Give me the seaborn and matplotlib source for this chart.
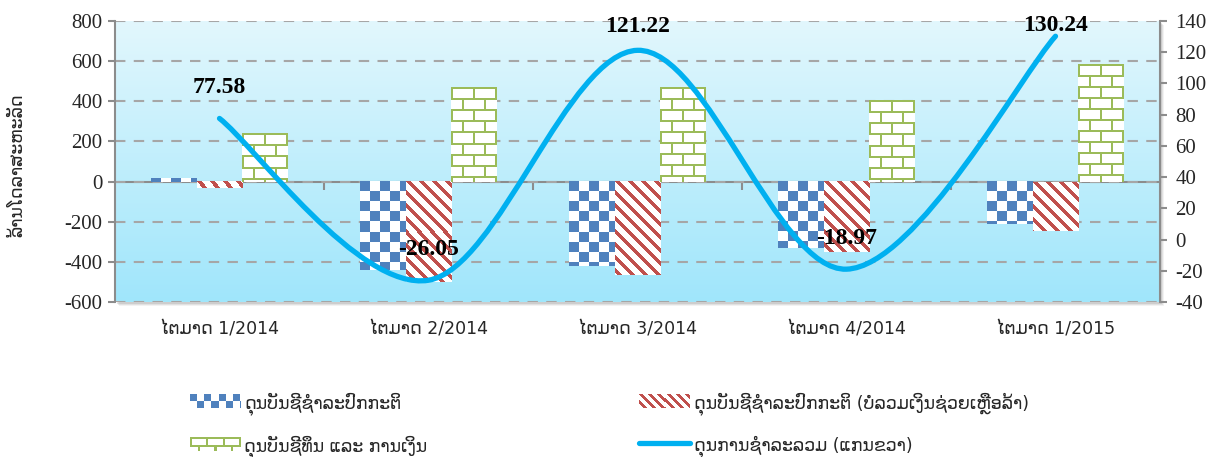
import numpy as np
import pandas as pd
import matplotlib
matplotlib.use('Agg')
import matplotlib.pyplot as plt
import seaborn as sns
from matplotlib.path import Path
from matplotlib.patches import PathPatch, Rectangle
from matplotlib.lines import Line2D
from matplotlib.image import BboxImage
from matplotlib.transforms import Bbox, TransformedBbox
from matplotlib.legend_handler import HandlerBase

# --- data ---
quarters = ['ໄຕມາດ 1/2014', 'ໄຕມາດ 2/2014', 'ໄຕມາດ 3/2014', 'ໄຕມາດ 4/2014', 'ໄຕມາດ 1/2015']
current_account = [16, -440, -419, -332, -213]
current_account_ex_grants = [-30, -500, -467, -352, -244]
capital_financial = [240, 470, 473, 406, 586]
overall_balance = [77.58, -26.05, 121.22, -18.97, 130.24]

series_names = ['ດຸນບັນຊີຊຳລະປົກກະຕິ',
                'ດຸນບັນຊີຊຳລະປົກກະຕິ (ບໍ່ລວມເງິນຊ່ວຍເຫຼືອລ້າ)',
                'ດຸນບັນຊີທຶນ ແລະ ການເງິນ']
line_name = 'ດຸນການຊຳລະລວມ (ແກນຂວາ)'
y_label = 'ລ້ານໂດລາສະຫະລັດ'

BLUE = '#4F81BD'
RED = '#C0504D'
GREEN = '#9BBB59'
LINE = '#00B0F0'
GRID = '#A6A6A6'
AXIS = '#8C8C8C'

W, H = 1217, 457

sns.set_theme(style='white')
plt.rcParams['font.family'] = ['DejaVu Sans']
plt.rcParams['axes.unicode_minus'] = False
SERIF = ['Liberation Serif', 'DejaVu Serif']


def make_pattern(kind, h, w, scale=1.0):
    i, j = np.mgrid[0:h, 0:w]
    img = np.ones((h, w, 3))
    if kind == 'checker':
        c = max(int(round(10 * scale)), 2)
        mask = ((i // c + j // c) % 2) == 0
        col = BLUE
    elif kind == 'stripes':
        p = max(int(round(13 * scale)), 3)
        mask = ((j - i) % p) < max(int(round(5 * scale)), 2)
        col = RED
    else:
        bh = max(int(round(11 * scale)), 4)
        bw = 2 * bh
        row = i // bh
        mask = ((i % bh) < 2) | (((j + (row % 2) * bh) % bw) < 2)
        col = GREEN
    img[mask] = matplotlib.colors.to_rgb(col)
    return img


class PatternKey:
    def __init__(self, kind):
        self.kind = kind


class PatternHandler(HandlerBase):
    def create_artists(self, legend, orig_handle, xdescent, ydescent,
                       width, height, fontsize, trans):
        bb = TransformedBbox(Bbox.from_bounds(-xdescent, -ydescent, width, height), trans)
        im = BboxImage(bb, interpolation='nearest')
        im.set_data(make_pattern(orig_handle.kind, 14, 50, scale=0.7))
        return [im]


fig = plt.figure(figsize=(W / 100, H / 100), dpi=100)
left, right, top, bottom = 115, 1160, 21, 302
ax = fig.add_axes([left / W, 1 - bottom / H, (right - left) / W, (bottom - top) / H])

# soft shadow behind the plot area
for k, a in zip([4, 3, 2], [0.10, 0.15, 0.20]):
    fig.add_artist(Rectangle(((left + k) / W, 1 - (bottom + k) / H), (right - left) / W,
                             (bottom - top) / H, transform=fig.transFigure,
                             color='#808080', alpha=a, lw=0, zorder=-5))

df = pd.DataFrame({
    'quarter': quarters * 3,
    'series': np.repeat(series_names, len(quarters)),
    'value': current_account + current_account_ex_grants + capital_financial,
})
sns.barplot(data=df, x='quarter', y='value', hue='series', hue_order=series_names,
            palette=[BLUE, RED, GREEN], saturation=1, width=0.66, errorbar=None,
            legend=False, ax=ax)

ax.set_xlim(-0.5, len(quarters) - 0.5)
ax.set_ylim(-600, 800)
ax.set_yticks(range(-600, 801, 200))

# fill the bars with Excel-like patterns
for cont, kind in zip(ax.containers, ['checker', 'stripes', 'bricks']):
    for bar in cont:
        bb = bar.get_bbox()
        x0, x1 = sorted([bb.x0, bb.x1])
        y0, y1 = sorted([bb.y0, bb.y1])
        p0 = ax.transData.transform((x0, y0))
        p1 = ax.transData.transform((x1, y1))
        wpx = max(int(round(p1[0] - p0[0])), 1)
        hpx = max(int(round(p1[1] - p0[1])), 1)
        ax.imshow(make_pattern(kind, hpx, wpx), extent=(x0, x1, y0, y1), origin='upper',
                  aspect='auto', interpolation='nearest', zorder=2)
        bar.set_facecolor('none')
        bar.set_linewidth(0)

# gradient background
grad = np.linspace(0, 1, 256)[:, None, None]
top_c = np.array(matplotlib.colors.to_rgb('#E2F7FD'))
bot_c = np.array(matplotlib.colors.to_rgb('#A0E6FB'))
bg = top_c * (1 - grad) + bot_c * grad
ax.imshow(bg, extent=(0, 1, 0, 1), transform=ax.transAxes, aspect='auto', zorder=0)
ax.set_xlim(-0.5, len(quarters) - 0.5)
ax.set_ylim(-600, 800)

ax.set_axisbelow(True)
ax.yaxis.grid(True, color=GRID, linestyle=(0, (5, 4)), linewidth=1.5)
ax.xaxis.grid(False)
for s in ['top', 'bottom', 'right']:
    ax.spines[s].set_visible(False)
ax.spines['left'].set_color(AXIS)
ax.spines['left'].set_linewidth(1.5)
ax.tick_params(axis='y', direction='out', length=5, width=1.5, color=AXIS, left=True,
               labelsize=15, pad=4)
for t in ax.get_yticklabels():
    t.set_family(SERIF)
ax.set_xticks(range(len(quarters)), quarters)
ax.tick_params(axis='x', length=0, pad=13, labelsize=12.5)
ax.set_xlabel('')
ax.set_ylabel('')
fig.text(17 / W, 1 - 165 / H, y_label, rotation=90, ha='center', va='center', fontsize=12.5)

# zero line with category separators
sec = ax.secondary_xaxis(600 / 1400)
sec.set_xticks(np.arange(0.5, len(quarters) - 1, 1.0), [''] * (len(quarters) - 1))
sec.tick_params(direction='out', length=6, width=1.5, color=AXIS)
sec.spines['bottom'].set_color(AXIS)
sec.spines['bottom'].set_linewidth(1.5)

# right axis with the smoothed overall balance line
ax2 = ax.twinx()
ax2.set_ylim(-40, 140)
ax2.set_yticks(range(-40, 141, 20))
for s in ['top', 'bottom', 'left']:
    ax2.spines[s].set_visible(False)
ax2.spines['right'].set_color(AXIS)
ax2.spines['right'].set_linewidth(1.5)
ax2.tick_params(axis='y', direction='out', length=5, width=1.5, color=AXIS, right=True,
                labelsize=15, pad=6)
for t in ax2.get_yticklabels():
    t.set_family(SERIF)
ax2.grid(False)

pts = np.column_stack([np.arange(len(overall_balance)), overall_balance]).astype(float)
n = len(pts)
verts = [pts[0]]
codes = [Path.MOVETO]
for k in range(n - 1):
    pa, pb = pts[max(k - 1, 0)], pts[k]
    pc, pd_ = pts[k + 1], pts[min(k + 2, n - 1)]
    verts += [pb + (pc - pa) / 6, pc - (pd_ - pb) / 6, pc]
    codes += [Path.CURVE4] * 3
ax2.add_patch(PathPatch(Path(verts, codes), fill=False, edgecolor=LINE, lw=3.8,
                        capstyle='round', zorder=3))

label_offsets = [(0, 22), (0, 22), (0, 17), (0, 22), (0, 8)]
for k, (v, off) in enumerate(zip(overall_balance, label_offsets)):
    ax2.annotate(f'{v:.2f}', xy=(k, v), xytext=off, textcoords='offset points',
                 ha='center', va='center', fontsize=17, fontweight='bold',
                 family=SERIF, color='black', zorder=5)

handles = [PatternKey('checker'), PatternKey('bricks'), PatternKey('stripes'),
           Line2D([], [], color=LINE, lw=3.8, solid_capstyle='round')]
labels = [series_names[0], series_names[2], series_names[1], line_name]
fig.legend(handles, labels, handler_map={PatternKey: PatternHandler()}, ncol=2,
           loc='upper left', bbox_to_anchor=(181 / W, 1 - 383 / H), frameon=False,
           fontsize=12.5, borderpad=0, handlelength=2.9, handleheight=0.8,
           handletextpad=0.25, columnspacing=12.2, labelspacing=1.15)

plt.savefig('out.png', dpi=100)
